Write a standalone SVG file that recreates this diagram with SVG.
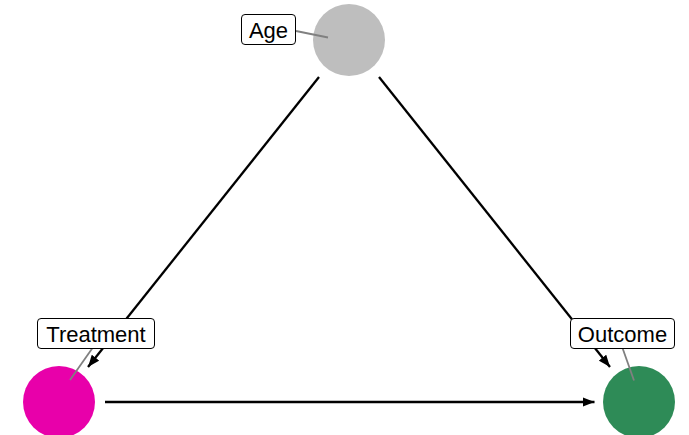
<svg xmlns="http://www.w3.org/2000/svg" width="689" height="435" viewBox="0 0 689 435">
<style>
.edge{stroke:#000;stroke-width:2.3;fill:none}
.lead{stroke:#808080;stroke-width:1.8}
.box{fill:#fff;stroke:#000;stroke-width:1}
.lbl{font-family:"Liberation Sans",Arial,sans-serif;font-size:22px;fill:#000}
</style>
<defs>
<marker id="arr" viewBox="0 0 12 10" refX="12" refY="5" markerWidth="12" markerHeight="10" orient="auto" markerUnits="userSpaceOnUse">
<path d="M0,0.3 L12,5 L0,9.7 Z" fill="#000"/>
</marker>
</defs>
<rect width="689" height="435" fill="#fff"/>
<g id="connectors">
<line class="edge" x1="319" y1="77" x2="88" y2="367" marker-end="url(#arr)"/>
<line class="edge" x1="379" y1="77" x2="610" y2="367" marker-end="url(#arr)"/>
<line class="edge" x1="105" y1="402" x2="594.5" y2="402" marker-end="url(#arr)"/>
</g>
<g id="age">
<circle cx="349" cy="40" r="36" fill="#BEBEBE"/>
<line class="lead" x1="296" y1="31" x2="328" y2="37.5"/>
<rect class="box" x="241.5" y="14.5" width="54" height="30" rx="3.5"/>
<text class="lbl" x="268.5" y="38" text-anchor="middle">Age</text>
</g>
<g id="treatment">
<circle cx="59" cy="402" r="36" fill="#E800AA"/>
<line class="lead" x1="92.5" y1="348" x2="70" y2="380"/>
<rect class="box" x="37.5" y="318.5" width="117" height="30" rx="3.5"/>
<text class="lbl" x="96" y="342" text-anchor="middle">Treatment</text>
</g>
<g id="outcome">
<circle cx="639" cy="402" r="36" fill="#2E8B57"/>
<line class="lead" x1="622.5" y1="348" x2="634" y2="380.5"/>
<rect class="box" x="570.5" y="318.5" width="104" height="30" rx="3.5"/>
<text class="lbl" x="622.5" y="342" text-anchor="middle">Outcome</text>
</g>
</svg>
